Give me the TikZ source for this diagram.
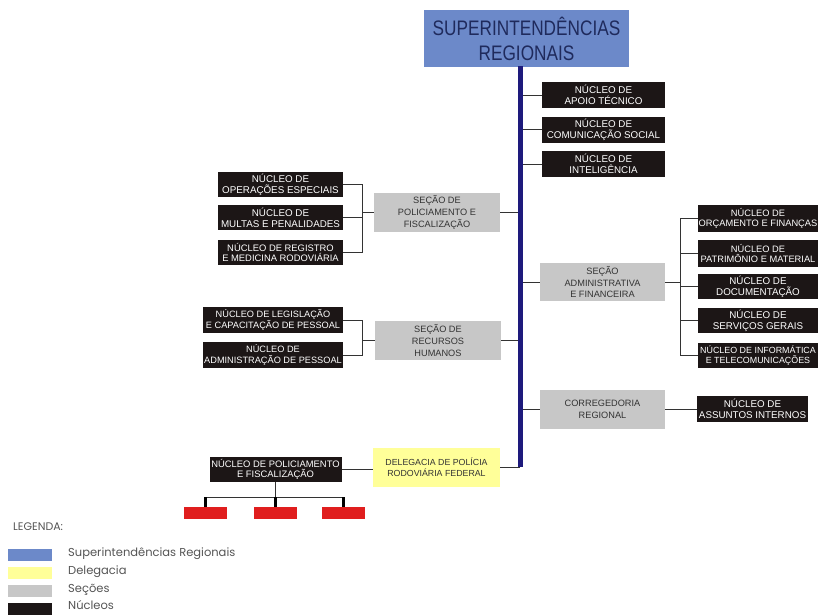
\documentclass[tikz,border=0pt]{standalone}
\usepackage{fontspec}
\setmainfont{Liberation Sans}
\newfontfamily\titlefont[FakeStretch=0.82]{Liberation Sans}
\newfontfamily\legfont{Poppins}
\definecolor{supblue}{HTML}{6C89C9}
\definecolor{navytext}{HTML}{1F2A5C}
\definecolor{vblue}{HTML}{1E1A7C}
\definecolor{nucblack}{HTML}{1C1616}
\definecolor{secgrey}{HTML}{C7C7C7}
\definecolor{delyellow}{HTML}{FFFF99}
\definecolor{redbox}{HTML}{E01E1E}
\definecolor{boxtext}{HTML}{333333}
\definecolor{linegrey}{HTML}{333333}
\definecolor{legtext}{HTML}{555555}
\begin{document}
\begin{tikzpicture}[x=1pt,y=-1pt,
  box/.style={draw=none, inner sep=0pt, align=center, anchor=center},
  nuc/.style={box, fill=nucblack, text=white, font=\fontsize{9.8}{10.6}\selectfont},
  sec/.style={box, fill=secgrey, text=boxtext, font=\fontsize{9.2}{11.8}\selectfont, minimum width=126pt, minimum height=39pt},
  del/.style={box, fill=delyellow, text=boxtext, font=\fontsize{8.8}{11}\selectfont, minimum width=127pt, minimum height=39pt},
  sup/.style={box, fill=supblue, text=navytext, font=\titlefont\fontsize{21}{25}\selectfont},
  redb/.style={box, fill=redbox, minimum width=43pt, minimum height=12pt},
  swatch/.style={box, minimum width=44pt, minimum height=12pt},
  legt/.style={anchor=west, inner sep=0pt, text=legtext, font=\legfont\fontsize{11.5}{13}\selectfont},
  conn/.style={draw=linegrey, line width=0.8pt},
  stub/.style={draw=black, line width=2.6pt},
  vline/.style={draw=vblue, line width=5pt}]
\useasboundingbox (0,0) rectangle (818,614);

% top
\node[sup, minimum width=205pt, minimum height=57pt] (sr) at (526.5,38.5) {SUPERINTENDÊNCIAS\\REGIONAIS};
\coordinate (vtop) at (520,66);
\coordinate (vbot) at (520,467);

% right top nucleos
\node[nuc, minimum width=123pt, minimum height=26pt] (n1) at (603.5,95) {NÚCLEO DE\\APOIO TÉCNICO};
\node[nuc, minimum width=123pt, minimum height=26pt] (n2) at (603.5,129.5) {NÚCLEO DE\\COMUNICAÇÃO SOCIAL};
\node[nuc, minimum width=123pt, minimum height=26pt] (n3) at (603.5,164) {NÚCLEO DE\\INTELIGÊNCIA};

% secao policiamento
\node[sec] (sp) at (437,212.5) {SEÇÃO DE\\POLICIAMENTO E\\FISCALIZAÇÃO};
\node[nuc, minimum width=125pt, minimum height=25pt] (o1) at (280.5,184.5) {NÚCLEO DE\\OPERAÇÕES ESPECIAIS};
\node[nuc, minimum width=125pt, minimum height=25pt] (o2) at (280.5,217.5) {NÚCLEO DE\\MULTAS E PENALIDADES};
\node[nuc, minimum width=125pt, minimum height=25pt, font=\fontsize{9.4}{10.6}\selectfont] (o3) at (280.5,252.5) {NÚCLEO DE REGISTRO\\E MEDICINA RODOVIÁRIA};
\coordinate (bl) at (362,212.5);

% recursos humanos
\node[sec] (rh) at (438,340.5) {SEÇÃO DE\\RECURSOS\\HUMANOS};
\node[nuc, minimum width=140pt, minimum height=26pt, font=\fontsize{9.2}{10.6}\selectfont] (h1) at (273,320) {NÚCLEO DE LEGISLAÇÃO\\E CAPACITAÇÃO DE PESSOAL};
\node[nuc, minimum width=140pt, minimum height=26pt, font=\fontsize{9.2}{10.6}\selectfont] (h2) at (273,355) {NÚCLEO DE\\ADMINISTRAÇÃO DE PESSOAL};

% administrativa
\node[sec, minimum width=125pt, minimum height=38pt] (sa) at (602.5,282) {SEÇÃO\\ADMINISTRATIVA\\E FINANCEIRA};
\node[nuc, minimum width=120pt, minimum height=27pt, font=\fontsize{9.3}{10.6}\selectfont] (a1) at (758,218.5) {NÚCLEO DE\\ORÇAMENTO E FINANÇAS};
\node[nuc, minimum width=120pt, minimum height=27pt, font=\fontsize{9.3}{10.6}\selectfont] (a2) at (758,253.5) {NÚCLEO DE\\PATRIMÔNIO E MATERIAL};
\node[nuc, minimum width=120pt, minimum height=25pt] (a3) at (758,286.5) {NÚCLEO DE\\DOCUMENTAÇÃO};
\node[nuc, minimum width=120pt, minimum height=25pt] (a4) at (758,320.5) {NÚCLEO DE\\SERVIÇOS GERAIS};
\node[nuc, minimum width=120pt, minimum height=25pt, font=\fontsize{8.9}{10.6}\selectfont] (a5) at (758,355.5) {NÚCLEO DE INFORMÁTICA\\E TELECOMUNICAÇÕES};
\coordinate (br) at (680,282);

% corregedoria
\node[sec, minimum width=125pt, minimum height=39pt] (cr) at (602.5,409) {CORREGEDORIA\\REGIONAL};
\node[nuc, minimum width=111pt, minimum height=26pt] (ai) at (752.5,409) {NÚCLEO DE\\ASSUNTOS INTERNOS};

% delegacia
\node[del] (dl) at (436.5,467) {DELEGACIA DE POLÍCIA\\RODOVIÁRIA FEDERAL};
\node[nuc, minimum width=132pt, minimum height=25pt, font=\fontsize{9.4}{10.6}\selectfont] (pf) at (275.5,469.5) {NÚCLEO DE POLICIAMENTO\\E FISCALIZAÇÃO};
\node[redb] (r1) at (205.5,513) {};
\node[redb] (r2) at (275.5,513) {};
\node[redb] (r3) at (343.5,513) {};

% connectors
\foreach \n in {n1,n2,n3} \draw[conn] (\n.west -| vtop) -- (\n.west);
\draw[conn] (sp.east) -- (sp.east -| vtop);
\draw[conn] (o1.east) -- (o1.east -| bl) -- (o3.east -| bl) -- (o3.east);
\draw[conn] (o2.east) -- (o2.east -| bl);
\draw[conn] (sp.west -| bl) -- (sp.west);
\draw[conn] (rh.east) -- (rh.east -| vtop);
\draw[conn] (h1.east) -- (h1.east -| bl) -- (h2.east -| bl) -- (h2.east);
\draw[conn] (rh.west -| bl) -- (rh.west);
\draw[conn] (sa.west -| vtop) -- (sa.west);
\draw[conn] (sa.east) -- (br);
\draw[conn] (a1.west -| br) -- (a5.west -| br);
\foreach \n in {a1,a2,a3,a4,a5} \draw[conn] (\n.west -| br) -- (\n.west);
\draw[conn] (cr.west -| vtop) -- (cr.west);
\draw[conn] (cr.east) -- (ai.west);
\draw[conn] (dl.east) -- (dl.east -| vbot);
\draw[conn] (pf.east) -- (pf.east -| dl.west);
\coordinate (tj) at (275.5,497);
\draw[conn] (pf.south) -- (pf.south |- tj);
\draw[conn] (r1.north |- tj) -- (r3.north |- tj);
\foreach \n in {r1,r2,r3} \draw[stub] (\n.north |- tj) -- (\n.north);
\draw[vline] (vtop) -- (vbot);

% legend
\node[anchor=west, inner sep=0pt, text=legtext, font=\legfont\fontsize{11}{12}\selectfont] (lgt) at (13,527) {LEGENDA:};
\node[swatch, fill=supblue] (s1) at (30,555) {};
\node[swatch, fill=delyellow] (s2) at (30,572.5) {};
\node[swatch, fill=secgrey] (s3) at (30,591) {};
\node[swatch, fill=nucblack] (s4) at (30,608.5) {};
\node[legt] (l1) at (68,554) {Superintendências Regionais};
\node[legt] (l2) at (68,572) {Delegacia};
\node[legt] (l3) at (68,590) {Seções};
\node[legt] (l4) at (68,605.5) {Núcleos};
\end{tikzpicture}
\end{document}
